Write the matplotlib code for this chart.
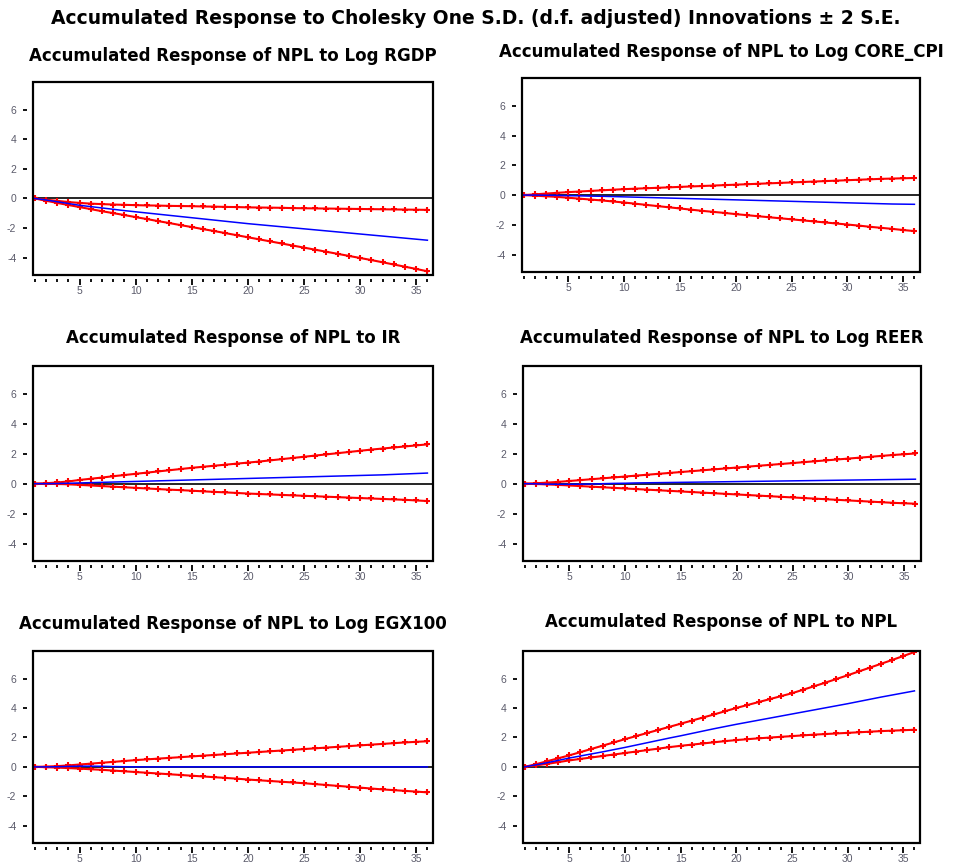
import matplotlib
matplotlib.use('Agg')
import matplotlib.pyplot as plt
from matplotlib.ticker import MultipleLocator
from matplotlib.patches import Rectangle

plt.rcParams['font.family'] = ['Liberation Sans', 'DejaVu Sans']
plt.rcParams['axes.unicode_minus'] = False

# horizon (periods)
periods = list(range(1, 37))

main_title = 'Accumulated Response to Cholesky One S.D. (d.f. adjusted) Innovations \u00b1 2 S.E.'
titles = [
    'Accumulated Response of NPL to Log RGDP',
    'Accumulated Response of NPL to Log CORE_CPI',
    'Accumulated Response of NPL to IR',
    'Accumulated Response of NPL to Log REER',
    'Accumulated Response of NPL to Log EGX100',
    'Accumulated Response of NPL to NPL',
]

# --- Log RGDP ---
rgdp_resp = [0, -0.1, -0.22, -0.34, -0.46, -0.55, -0.64, -0.73, -0.82, -0.9, -0.98, -1.06,
             -1.14, -1.22, -1.3, -1.38, -1.46, -1.54, -1.62, -1.7, -1.77, -1.84, -1.91, -1.98,
             -2.05, -2.12, -2.19, -2.26, -2.33, -2.4, -2.47, -2.54, -2.61, -2.68, -2.75, -2.82]
rgdp_up = [0, -0.08, -0.16, -0.24, -0.3, -0.35, -0.38, -0.41, -0.43, -0.45, -0.47, -0.48,
           -0.5, -0.51, -0.52, -0.54, -0.55, -0.57, -0.58, -0.6, -0.61, -0.62, -0.63, -0.65,
           -0.66, -0.67, -0.68, -0.69, -0.7, -0.71, -0.72, -0.73, -0.74, -0.75, -0.76, -0.77]
rgdp_lo = [0, -0.15, -0.3, -0.44, -0.58, -0.72, -0.86, -0.99, -1.12, -1.26, -1.39, -1.53,
           -1.66, -1.8, -1.93, -2.07, -2.2, -2.34, -2.48, -2.62, -2.76, -2.9, -3.04, -3.18,
           -3.32, -3.46, -3.6, -3.74, -3.88, -4.02, -4.16, -4.31, -4.46, -4.61, -4.76, -4.92]

# --- Log CORE_CPI ---
cpi_resp = [0, 0, -0.01, -0.02, -0.04, -0.05, -0.07, -0.08, -0.1, -0.12, -0.14, -0.16,
            -0.18, -0.2, -0.22, -0.24, -0.26, -0.28, -0.3, -0.32, -0.34, -0.36, -0.38, -0.4,
            -0.42, -0.44, -0.46, -0.48, -0.5, -0.52, -0.54, -0.56, -0.58, -0.6, -0.61, -0.62]
cpi_up = [0, 0.05, 0.1, 0.15, 0.2, 0.24, 0.28, 0.32, 0.36, 0.4, 0.43, 0.46,
          0.49, 0.52, 0.55, 0.58, 0.61, 0.64, 0.67, 0.7, 0.73, 0.76, 0.79, 0.82,
          0.85, 0.88, 0.91, 0.94, 0.97, 1.0, 1.03, 1.06, 1.09, 1.11, 1.13, 1.15]
cpi_lo = [0, -0.04, -0.08, -0.12, -0.18, -0.24, -0.3, -0.36, -0.43, -0.5, -0.58, -0.66,
          -0.74, -0.82, -0.9, -0.98, -1.06, -1.13, -1.2, -1.28, -1.35, -1.42, -1.49, -1.56,
          -1.63, -1.7, -1.77, -1.84, -1.91, -1.98, -2.05, -2.13, -2.2, -2.27, -2.35, -2.42]

# --- IR ---
ir_resp = [0, 0, 0.01, 0.03, 0.05, 0.07, 0.09, 0.11, 0.13, 0.15, 0.17, 0.19,
           0.21, 0.23, 0.25, 0.27, 0.29, 0.31, 0.33, 0.35, 0.37, 0.39, 0.41, 0.43,
           0.45, 0.47, 0.49, 0.51, 0.53, 0.55, 0.57, 0.59, 0.62, 0.65, 0.68, 0.71]
ir_up = [0, 0.03, 0.08, 0.15, 0.25, 0.33, 0.41, 0.5, 0.58, 0.66, 0.74, 0.82,
         0.9, 0.98, 1.06, 1.13, 1.2, 1.27, 1.34, 1.41, 1.48, 1.56, 1.64, 1.72,
         1.8, 1.88, 1.96, 2.04, 2.12, 2.2, 2.28, 2.35, 2.42, 2.49, 2.56, 2.63]
ir_lo = [0, -0.01, -0.02, -0.04, -0.08, -0.12, -0.16, -0.2, -0.24, -0.28, -0.32, -0.36,
         -0.4, -0.43, -0.47, -0.51, -0.55, -0.58, -0.62, -0.66, -0.69, -0.72, -0.75, -0.78,
         -0.81, -0.84, -0.87, -0.9, -0.93, -0.96, -0.99, -1.02, -1.05, -1.08, -1.12, -1.16]

# --- Log REER ---
reer_resp = [0, -0.01, -0.03, -0.04, -0.04, -0.03, -0.02, 0.0, 0.02, 0.03, 0.05, 0.06,
             0.07, 0.08, 0.09, 0.1, 0.11, 0.12, 0.13, 0.14, 0.15, 0.16, 0.17, 0.18,
             0.19, 0.2, 0.21, 0.22, 0.23, 0.24, 0.25, 0.26, 0.27, 0.28, 0.29, 0.3]
reer_up = [0, 0.03, 0.07, 0.12, 0.18, 0.24, 0.3, 0.36, 0.42, 0.48, 0.54, 0.6,
           0.66, 0.72, 0.78, 0.84, 0.9, 0.96, 1.02, 1.08, 1.14, 1.2, 1.26, 1.32,
           1.38, 1.44, 1.5, 1.56, 1.62, 1.68, 1.74, 1.8, 1.86, 1.92, 1.97, 2.02]
reer_lo = [0, -0.02, -0.05, -0.08, -0.12, -0.16, -0.2, -0.24, -0.28, -0.32, -0.36, -0.4,
           -0.44, -0.48, -0.52, -0.56, -0.6, -0.64, -0.68, -0.72, -0.76, -0.8, -0.84, -0.88,
           -0.92, -0.96, -1.0, -1.04, -1.08, -1.12, -1.16, -1.2, -1.24, -1.28, -1.31, -1.34]

# --- Log EGX100 ---
egx_resp = [0, 0, 0.01, 0.03, 0.05, 0.05, 0.04, 0.02, 0.01, 0, 0, 0,
            0, 0, 0, 0, 0, 0, 0, 0, 0, 0, 0, 0,
            0, 0, 0, 0, 0, 0, 0, 0, 0, 0, 0, 0]
egx_up = [0, 0.02, 0.05, 0.1, 0.16, 0.22, 0.28, 0.34, 0.4, 0.46, 0.51, 0.56,
          0.61, 0.66, 0.71, 0.76, 0.81, 0.86, 0.91, 0.96, 1.01, 1.06, 1.11, 1.16,
          1.21, 1.26, 1.31, 1.36, 1.41, 1.46, 1.51, 1.56, 1.61, 1.66, 1.7, 1.74]
egx_lo = [0, -0.02, -0.05, -0.08, -0.12, -0.16, -0.2, -0.25, -0.3, -0.35, -0.4, -0.45,
          -0.5, -0.55, -0.6, -0.65, -0.7, -0.75, -0.8, -0.86, -0.91, -0.96, -1.01, -1.06,
          -1.11, -1.17, -1.23, -1.29, -1.35, -1.41, -1.47, -1.53, -1.58, -1.63, -1.68, -1.73]

# --- NPL ---
npl_resp = [0, 0.14, 0.28, 0.44, 0.6, 0.74, 0.88, 1.02, 1.17, 1.32, 1.48, 1.64,
            1.8, 1.96, 2.11, 2.27, 2.43, 2.59, 2.74, 2.89, 3.03, 3.17, 3.31, 3.45,
            3.59, 3.73, 3.87, 4.01, 4.15, 4.29, 4.44, 4.59, 4.74, 4.88, 5.02, 5.16]
npl_up = [0, 0.18, 0.38, 0.58, 0.78, 1.0, 1.22, 1.44, 1.66, 1.88, 2.09, 2.3,
          2.51, 2.72, 2.93, 3.14, 3.35, 3.56, 3.78, 4.0, 4.2, 4.4, 4.6, 4.8,
          5.0, 5.24, 5.48, 5.72, 5.97, 6.22, 6.48, 6.74, 7.0, 7.26, 7.53, 7.8]
npl_lo = [0, 0.1, 0.2, 0.32, 0.44, 0.54, 0.64, 0.74, 0.84, 0.94, 1.04, 1.14,
          1.24, 1.34, 1.43, 1.51, 1.59, 1.67, 1.75, 1.82, 1.88, 1.94, 1.99, 2.04,
          2.09, 2.14, 2.19, 2.23, 2.27, 2.31, 2.35, 2.39, 2.43, 2.46, 2.49, 2.52]

responses = [rgdp_resp, cpi_resp, ir_resp, reer_resp, egx_resp, npl_resp]
uppers = [rgdp_up, cpi_up, ir_up, reer_up, egx_up, npl_up]
lowers = [rgdp_lo, cpi_lo, ir_lo, reer_lo, egx_lo, npl_lo]

y_ticks = [-4, -2, 0, 2, 4, 6]
x_ticks = [5, 10, 15, 20, 25, 30, 35]

W, H = 954, 863
fig = plt.figure(figsize=(W / 100, H / 100), dpi=100)
fig.patch.set_facecolor('white')

# panel boxes in pixels: left, top, right, bottom
boxes = [(33, 82, 433, 275), (522, 78, 920, 272),
         (33, 366, 433, 561), (523, 366, 921, 561),
         (33, 651, 433, 843), (523, 651, 920, 843)]
title_y = [56, 52, 338, 338, 624, 622]

fig.text(476, H - 18, main_title, transform=None, ha='center', va='center',
         fontsize=13.5, fontweight='bold', family='DejaVu Sans')

for i in range(6):
    l, t, r, b = boxes[i]
    ax = fig.add_axes([l / W, 1 - b / H, (r - l) / W, (b - t) / H])
    ax.axhline(0, color='black', lw=1.2, zorder=1)
    ax.plot(periods, responses[i], color='#0000ff', lw=1.1, zorder=3)
    ax.plot(periods, uppers[i], color='#ff0000', lw=1.5, marker='+', ms=5, mew=1.5, zorder=2)
    ax.plot(periods, lowers[i], color='#ff0000', lw=1.5, marker='+', ms=5, mew=1.5, zorder=2)
    ax.set_xlim(0.85, 36.5)
    ax.set_ylim(-5.17, 7.87)
    ax.set_yticks(y_ticks)
    ax.set_xticks(x_ticks)
    ax.xaxis.set_minor_locator(MultipleLocator(1))
    # EViews style: ticks stand off the frame
    ax.spines['left'].set_position(('outward', 4))
    ax.spines['bottom'].set_position(('outward', 3))
    for s in ax.spines.values():
        s.set_color('none')
    ax.add_patch(Rectangle((0, 0), 1, 1, transform=ax.transAxes, fill=False,
                           ec='black', lw=1.6, clip_on=False, zorder=5))
    ax.tick_params(axis='both', which='major', direction='out', length=3, width=1.3,
                   labelsize=7.5, labelcolor='#5a5a6a', pad=5)
    ax.tick_params(axis='x', which='major', length=4, pad=1)
    ax.tick_params(axis='x', which='minor', direction='out', length=2, width=1.3)
    cx = (l + r) / 2
    fig.text(cx, H - title_y[i], titles[i], transform=None, ha='center', va='center',
             fontsize=12, fontweight='bold', family='DejaVu Sans')

fig.savefig('out.png', dpi=100)
